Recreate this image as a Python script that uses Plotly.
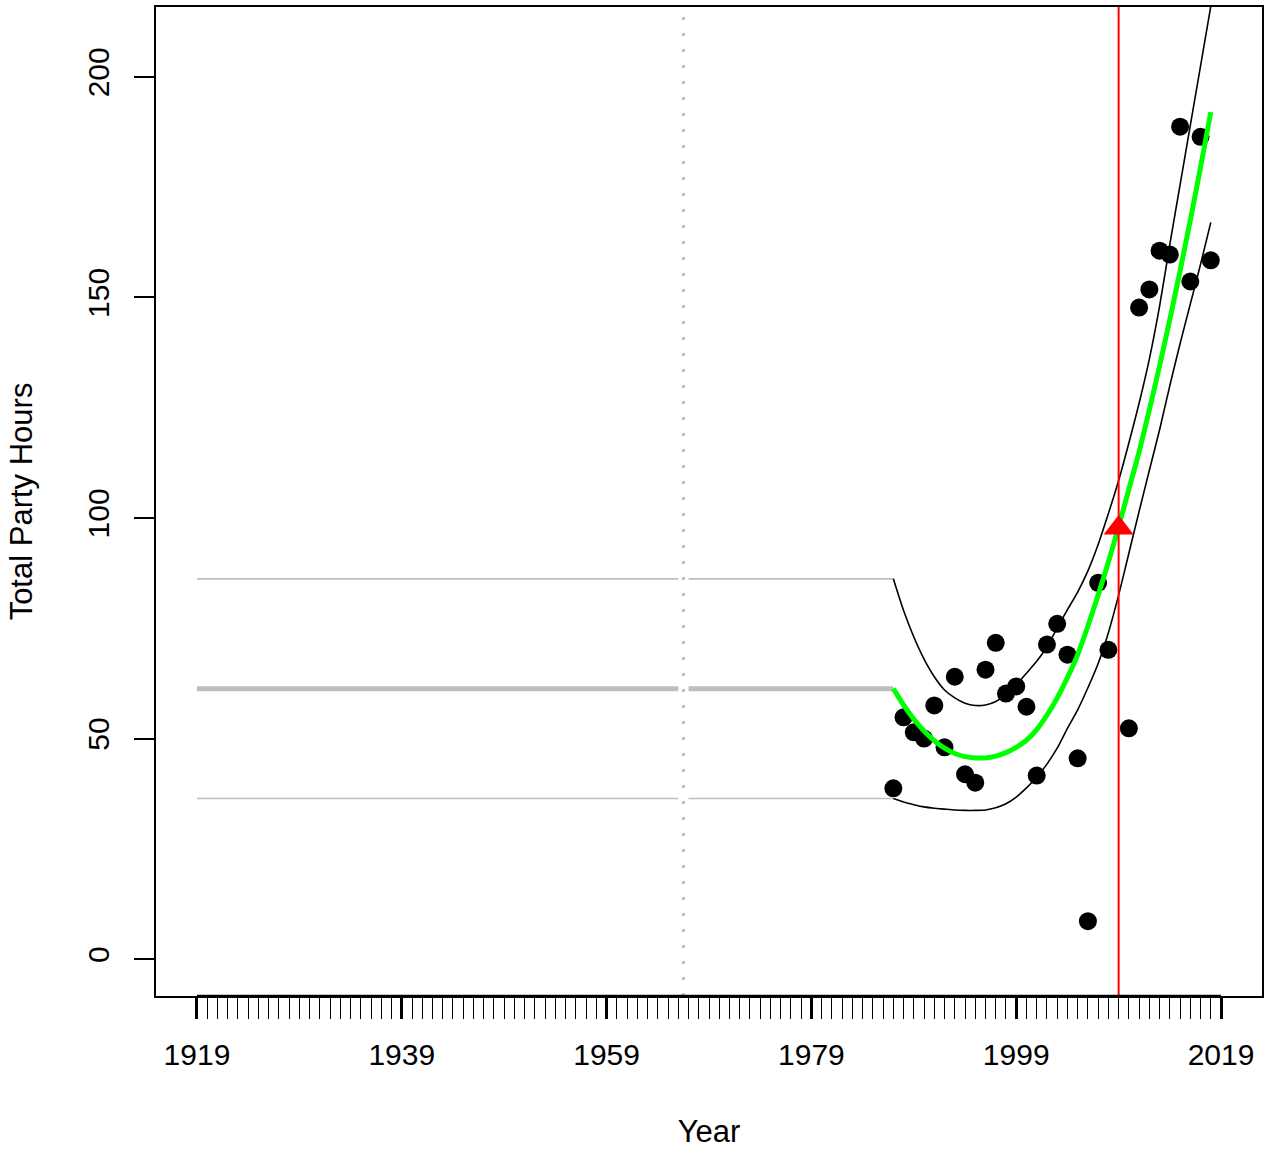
import plotly.graph_objects as go

# ---------------- data ----------------
years = list(range(1987, 2019))
hours = [38.7, 54.8, 51.4, 50.0, 57.5, 48.0, 64.0, 41.9, 40.0, 65.6,
         71.7, 60.2, 61.8, 57.2, 41.6, 71.3, 76.0, 69.0, 45.5, 8.6,
         85.3, 70.1, None, 52.3, 147.7, 151.8, 160.6, 159.7, 188.7, 153.6,
         186.4, 158.4]
fit = [61.3, 57.6, 54.4, 51.7, 49.5, 47.8, 46.6, 45.9, 45.6, 45.6,
       46.0, 46.8, 48.0, 49.6, 52.0, 55.3, 59.2, 63.8, 69.0, 75.5,
       82.5, 90.0, 98.0, 106.5, 115.0, 124.5, 134.5, 145.0, 156.0, 167.5,
       179.5, 192.0]
upper = [86.2, 79.0, 73.0, 68.0, 64.0, 61.0, 59.2, 58.0, 57.5, 57.6,
         58.4, 60.0, 62.2, 64.8, 67.5, 70.8, 75.0, 79.2, 83.2, 88.0,
         94.0, 101.0, 108.5, 117.0, 126.0, 136.0, 148.0, 162.0, 175.5, 189.0,
         202.5, 216.0]
lower = [36.4, 35.6, 35.0, 34.5, 34.2, 34.0, 33.8, 33.7, 33.7, 33.8,
         34.3, 35.2, 36.7, 38.8, 41.2, 44.2, 47.8, 52.3, 56.5, 61.5,
         67.0, 74.0, 82.5, 92.0, 101.5, 110.8, 120.0, 130.0, 139.5, 148.5,
         157.5, 167.0]

baseline_mean = 61.3
baseline_upper = 86.2
baseline_lower = 36.4
baseline_segments = [(1919, 1966), (1967, 1987)]

break_year = 1966.5
pred_year = 2009
pred_value = 97.7

major_years = [1919, 1939, 1959, 1979, 1999, 2019]
minor_years = list(range(1919, 2020))
y_ticks = [0, 50, 100, 150, 200]

GRAY = "#BEBEBE"

fig = go.Figure()

# baseline (gray) lines
for (a, b) in baseline_segments:
    for val, w in [(baseline_upper, 1.6), (baseline_lower, 1.6), (baseline_mean, 5)]:
        fig.add_trace(go.Scatter(x=[a, b], y=[val, val], mode="lines",
                                 line=dict(color=GRAY, width=w),
                                 hoverinfo="skip"))

# confidence band lines
fig.add_trace(go.Scatter(x=years, y=upper, mode="lines",
                         line=dict(color="black", width=1.6, shape="spline", smoothing=0.6),
                         hoverinfo="skip"))
fig.add_trace(go.Scatter(x=years, y=lower, mode="lines",
                         line=dict(color="black", width=1.6, shape="spline", smoothing=0.6),
                         hoverinfo="skip"))

# observed points
fig.add_trace(go.Scatter(x=years, y=hours, mode="markers",
                         marker=dict(color="black", size=18, line=dict(width=0))))

# fitted line
fig.add_trace(go.Scatter(x=years, y=fit, mode="lines",
                         line=dict(color="#00FF00", width=5, shape="spline", smoothing=0.6),
                         hoverinfo="skip"))

# predicted point
fig.add_trace(go.Scatter(x=[pred_year], y=[pred_value], mode="markers",
                         marker=dict(color="red", symbol="triangle-up", size=26,
                                     line=dict(width=0))))

# vertical lines
fig.add_shape(type="line", xref="x", yref="paper", x0=break_year, x1=break_year,
              y0=0, y1=1, line=dict(color=GRAY, width=3, dash="3px,13px"), layer="below")
fig.add_shape(type="line", xref="x", yref="paper", x0=pred_year, x1=pred_year,
              y0=0, y1=1, line=dict(color="red", width=2), layer="above")
# x axis line segment (R style axis drawn over box)
fig.add_shape(type="line", xref="x", yref="paper", x0=major_years[0], x1=major_years[-1],
              y0=0, y1=0, line=dict(color="black", width=2.5), layer="above")

fig.update_layout(
    width=1271, height=1154,
    margin=dict(l=156, r=9, t=5, b=158),
    plot_bgcolor="white", paper_bgcolor="white",
    showlegend=False,
    font=dict(family="Liberation Sans, Arial, sans-serif", size=26, color="black"),
)
fig.update_xaxes(
    range=[1915, 2023],
    tickmode="array", tickvals=major_years, ticktext=[str(y) for y in major_years],
    tickfont=dict(size=30),
    ticks="outside", ticklen=21, tickwidth=2.5, tickcolor="black",
    ticklabelstandoff=10,
    minor=dict(tickmode="array", tickvals=minor_years, ticks="outside",
               ticklen=21, tickwidth=1.2, tickcolor="black", showgrid=False),
    showline=True, linecolor="black", linewidth=1.5, mirror=True,
    showgrid=False, zeroline=False,
    title=dict(text="Year", standoff=51),
)
fig.update_yaxes(
    range=[-8.37, 215.83],
    tickmode="array", tickvals=y_ticks, ticktext=[str(v) for v in y_ticks],
    tickfont=dict(size=30),
    tickangle=-90,
    ticks="outside", ticklen=20, tickwidth=1.5, tickcolor="black",
    ticklabelstandoff=13,
    showline=True, linecolor="black", linewidth=1.5, mirror=True,
    showgrid=False, zeroline=False,
    title=dict(text="Total Party Hours", standoff=40),
)

fig.write_html("out.html", config={"displayModeBar": False},
               post_script="document.body.style.margin='0px';")
